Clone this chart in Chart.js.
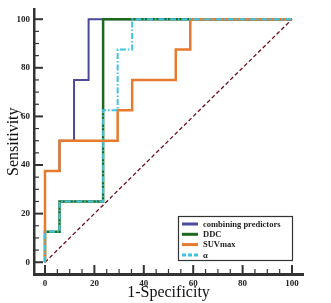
<!DOCTYPE html>
<html>
<head>
<meta charset="utf-8">
<script src="https://cdn.jsdelivr.net/npm/chart.js@4.4.0/dist/chart.umd.min.js"></script>
<style>
    html, body { margin: 0; padding: 0; background: #fff; }
    #wrap { width: 331px; height: 303px; position: relative; }
</style>
</head>
<body>
<div id="wrap"><canvas id="roc"></canvas></div>
<script>
// ROC curves, 1-specificity (x) and sensitivity (y), in %
const seriesLabels = ['combining predictors', 'DDC', 'SUVmax', 'α'];

const combinedX = [0, 0, 5.88, 5.88, 11.76, 11.76, 17.65, 17.65, 100];
const combinedY = [0, 37.5, 37.5, 50, 50, 75, 75, 100, 100];

const ddcX = [0, 0, 5.88, 5.88, 23.53, 23.53, 100];
const ddcY = [0, 12.5, 12.5, 25, 25, 100, 100];

const suvX = [0, 0, 5.88, 5.88, 29.41, 29.41, 35.29, 35.29, 52.94, 52.94, 58.82, 58.82, 100];
const suvY = [0, 37.5, 37.5, 50, 50, 62.5, 62.5, 75, 75, 87.5, 87.5, 100, 100];

const alphaX = [0, 0, 5.88, 5.88, 23.53, 23.53, 29.41, 29.41, 35.29, 35.29, 100];
const alphaY = [0, 12.5, 12.5, 25, 25, 62.5, 62.5, 87.5, 87.5, 100, 100];

const refX = [0, 100];
const refY = [0, 100];

const axisTicks = [0, 20, 40, 60, 80, 100];
const minorStep = 5;

const toPoints = (xs, ys) => xs.map((x, i) => ({ x: x, y: ys[i] }));

const serif = "'Liberation Serif', 'DejaVu Serif', serif";

// small ticks pointing into the plot, long ones at the labelled values
const innerTicks = {
    id: 'innerTicks',
    afterDraw(chart) {
        const ctx = chart.ctx;
        const xs = chart.scales.x;
        const ys = chart.scales.y;
        const area = chart.chartArea;
        ctx.save();
        ctx.strokeStyle = '#333';
        for (let v = 0; v <= 100; v += minorStep) {
            const major = axisTicks.includes(v);
            ctx.lineWidth = major ? 2 : 1.2;
            const len = major ? 9 : 5;
            const px = xs.getPixelForValue(v);
            ctx.beginPath();
            ctx.moveTo(px, area.bottom);
            ctx.lineTo(px, area.bottom - len);
            ctx.stroke();
            const py = ys.getPixelForValue(v);
            ctx.beginPath();
            ctx.moveTo(area.left, py);
            ctx.lineTo(area.left + len, py);
            ctx.stroke();
        }
        ctx.restore();
    }
};

// boxed legend sitting in the lower right of the plot
const boxLegend = {
    id: 'boxLegend',
    afterDraw(chart) {
        const ctx = chart.ctx;
        const left = 178, top = 216, w = 114, h = 44;
        ctx.save();
        ctx.fillStyle = '#fff';
        ctx.fillRect(left, top, w, h);
        ctx.strokeStyle = '#333';
        ctx.lineWidth = 1.2;
        ctx.strokeRect(left + 0.5, top + 0.5, w, h);
        ctx.font = 'bold 8.5px ' + serif;
        ctx.textBaseline = 'middle';
        seriesLabels.forEach((label, i) => {
            const ds = chart.data.datasets.find(d => d.label === label);
            const y = top + 8 + i * 10.3;
            ctx.strokeStyle = ds.borderColor;
            ctx.lineWidth = 3;
            ctx.setLineDash(ds.borderDash && ds.borderDash.length ? [4, 2] : []);
            ctx.beginPath();
            ctx.moveTo(left + 4, y);
            ctx.lineTo(left + 20, y);
            ctx.stroke();
            ctx.setLineDash([]);
            ctx.fillStyle = '#222';
            ctx.fillText(label, left + 25, y + 0.5);
        });
        ctx.restore();
    }
};

const ctx = document.getElementById('roc').getContext('2d');
new Chart(ctx, {
    type: 'line',
    data: {
        datasets: [
            {
                label: 'α',
                data: toPoints(alphaX, alphaY),
                borderColor: '#3ec4df',
                borderWidth: 2,
                borderDash: [6, 2, 1.5, 2],
                order: 0
            },
            {
                label: 'SUVmax',
                data: toPoints(suvX, suvY),
                borderColor: '#e67a2e',
                borderWidth: 2.5,
                order: 1
            },
            {
                label: 'DDC',
                data: toPoints(ddcX, ddcY),
                borderColor: '#1c6a1e',
                borderWidth: 2.5,
                order: 2
            },
            {
                label: 'combining predictors',
                data: toPoints(combinedX, combinedY),
                borderColor: '#4b4a9c',
                borderWidth: 2,
                order: 3
            },
            {
                label: 'reference',
                data: toPoints(refX, refY),
                borderColor: '#6e0f1e',
                borderWidth: 1.3,
                borderDash: [4, 2.5],
                order: 4
            }
        ]
    },
    options: {
        responsive: true,
        maintainAspectRatio: false,
        animation: false,
        parsing: false,
        elements: {
            point: { radius: 0 },
            line: { tension: 0, fill: false }
        },
        layout: { padding: { top: 4, right: 28, left: 0, bottom: 0 } },
        plugins: {
            legend: { display: false },
            tooltip: { enabled: false }
        },
        scales: {
            x: {
                type: 'linear',
                min: -4.45,
                max: 104.45,
                afterFit: s => { s.height = 29; },
                afterBuildTicks: s => { s.ticks = axisTicks.map(v => ({ value: v })); },
                grid: { display: false, drawTicks: false },
                border: { display: true, color: '#333', width: 3 },
                ticks: {
                    padding: 4,
                    maxRotation: 0,
                    color: '#222',
                    font: { family: serif, size: 9, weight: 'bold' }
                },
                title: {
                    display: true,
                    text: '1-Specificity',
                    color: '#111',
                    padding: { top: 0, bottom: 1 },
                    font: { family: serif, size: 16 }
                }
            },
            y: {
                type: 'linear',
                min: -4.84,
                max: 104.03,
                afterFit: s => { s.width = 34; },
                afterBuildTicks: s => { s.ticks = axisTicks.map(v => ({ value: v })); },
                grid: { display: false, drawTicks: false },
                border: { display: true, color: '#333', width: 2.5 },
                ticks: {
                    padding: 4,
                    color: '#222',
                    font: { family: serif, size: 9, weight: 'bold' }
                },
                title: {
                    display: true,
                    text: 'Sensitivity',
                    color: '#111',
                    padding: { top: 4, bottom: 0 },
                    font: { family: serif, size: 16 }
                }
            }
        }
    },
    plugins: [innerTicks, boxLegend]
});
</script>
</body>
</html>
